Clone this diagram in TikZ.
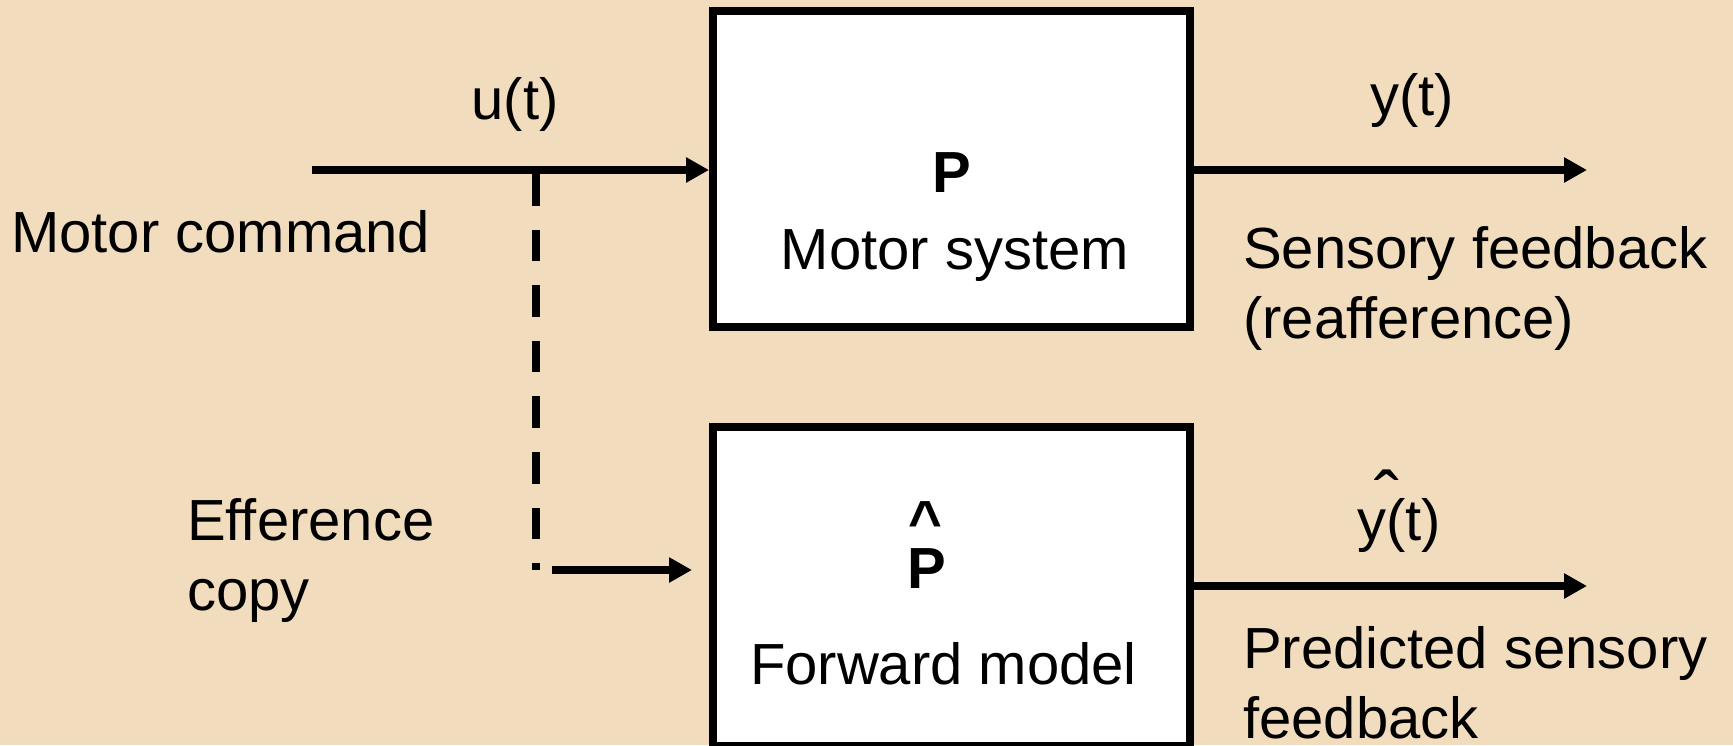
\documentclass[tikz,border=0pt]{standalone}
\usepackage{fontspec}
\setmainfont{Liberation Sans}
\usetikzlibrary{arrows.meta}
\definecolor{bg}{RGB}{242,220,190}
\begin{document}
\begin{tikzpicture}[x=1pt,y=-1pt,
  box/.style={draw=black,fill=white,line width=8pt,inner sep=0pt},
  txt/.style={inner sep=0pt,font=\fontsize{58}{69.5}\selectfont},
  btxt/.style={inner sep=0pt,font=\fontsize{58}{69.5}\selectfont\bfseries},
  arr/.style={line width=8pt,-{Triangle[length=23pt,width=24pt]}},
  dashline/.style={line width=8pt,dash pattern=on 31.5pt off 24.1pt}]
\fill[bg] (0,0) rectangle (1733,745);
\useasboundingbox (0,0) rectangle (1733,745);
% boxes
\node[box,minimum width=477pt,minimum height=316pt] (ms) at (951.5,169) {};
\node[box,minimum width=477pt,minimum height=319pt] (fm) at (951.5,586.5) {};
% box texts
\node[btxt,anchor=base] (P) at (952,192) {P};
\node[txt,anchor=base] (mst) at (955,269) {Motor system};
\node[btxt,anchor=base] (Phat) at (925,541) {\textasciicircum};
\node[btxt,anchor=base] (P2) at (927,588) {P};
\node[txt,anchor=base] (fmt) at (943.5,684) {Forward model};
% coordinates
\coordinate (mc) at (312,170);
\coordinate (yend) at (1587,170);
\coordinate (tap) at (536,174);
\coordinate (tapend) at (536,570);
\coordinate (ec) at (552,570);
\coordinate (ecend) at (692,570);
\coordinate (yhend) at (1587,586);
% connectors
\draw[arr] (mc) -- (mc -| ms.west);
\draw[arr] (ms.east |- yend) -- (yend);
\draw[dashline] (tap) -- (tapend);
\draw[arr] (ec) -- (ecend);
\draw[arr] (fm.east |- yhend) -- (yhend);
% labels
\node[txt,anchor=base] (u) at (515,119) {u(t)};
\node[txt,anchor=base west] (mcl) at (11,252) {Motor command};
\node[txt,anchor=base] (y) at (1412,115) {y(t)};
\node[txt,anchor=base west,align=left] (sf) at (1243,338) {Sensory feedback\\(reafference)};
\node[txt,anchor=base west,align=left] (ecl) at (187,610) {Efference\\copy};
\node[txt,anchor=base west] (yh) at (1357,540) {y(t)};
\node[inner sep=0pt,font=\fontsize{75}{80}\selectfont,anchor=base] (hat) at (1386.5,524) {ˆ};
\node[txt,anchor=base west,align=left] (psf) at (1243,738) {Predicted sensory\\feedback};
\end{tikzpicture}
\end{document}
